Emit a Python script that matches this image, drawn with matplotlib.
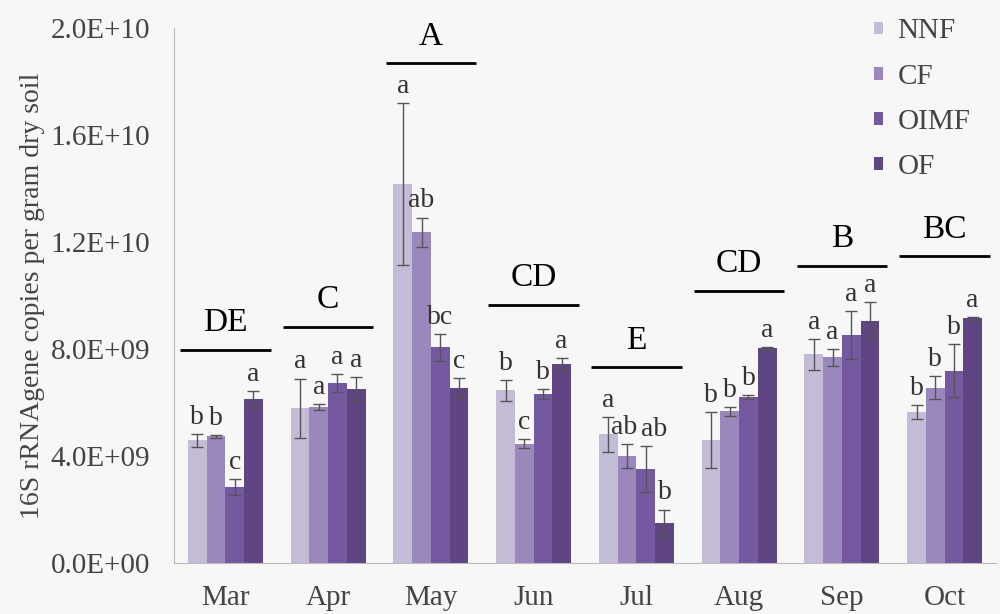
import numpy as np
import matplotlib.pyplot as plt

plt.rcParams['font.family'] = ['Liberation Serif', 'DejaVu Serif']

# Datos
months = ['Mar', 'Apr', 'May', 'Jun', 'Jul', 'Aug', 'Sep', 'Oct']
treatments = ['NNF', 'CF', 'OIMF', 'OF']

nnf = [4.59e9, 5.79e9, 14.16e9, 6.46e9, 4.81e9, 4.59e9, 7.80e9, 5.64e9]
cf = [4.74e9, 5.83e9, 12.37e9, 4.46e9, 4.00e9, 5.67e9, 7.70e9, 6.55e9]
oimf = [2.83e9, 6.73e9, 8.07e9, 6.33e9, 3.52e9, 6.21e9, 8.53e9, 7.20e9]
of = [6.12e9, 6.52e9, 6.55e9, 7.45e9, 1.48e9, 8.03e9, 9.06e9, 9.15e9]

nnf_err = [0.25e9, 1.11e9, 3.03e9, 0.40e9, 0.65e9, 1.04e9, 0.59e9, 0.27e9]
cf_err = [0.05e9, 0.12e9, 0.55e9, 0.17e9, 0.45e9, 0.18e9, 0.32e9, 0.43e9]
oimf_err = [0.30e9, 0.35e9, 0.50e9, 0.18e9, 0.87e9, 0.07e9, 0.91e9, 0.99e9]
of_err = [0.30e9, 0.45e9, 0.37e9, 0.20e9, 0.52e9, 0.06e9, 0.69e9, 0.06e9]

nnf_sig = ['b', 'a', 'a', 'b', 'a', 'b', 'a', 'b']
cf_sig = ['b', 'a', 'ab', 'c', 'ab', 'b', 'a', 'b']
oimf_sig = ['c', 'a', 'bc', 'b', 'ab', 'b', 'a', 'b']
of_sig = ['a', 'a', 'c', 'a', 'b', 'a', 'a', 'a']

group_letters = ['DE', 'C', 'A', 'CD', 'E', 'CD', 'B', 'BC']
group_line = [7.97e9, 8.84e9, 18.7e9, 9.66e9, 7.32e9, 10.19e9, 11.12e9, 11.47e9]

colors = ['#c4bbd6', '#9a88bd', '#7459a0', '#5f4582']

values = [nnf, cf, oimf, of]
errors = [nnf_err, cf_err, oimf_err, of_err]
sigs = [nnf_sig, cf_sig, oimf_sig, of_sig]

# pequeño desplazamiento horizontal para que "ab ab" de Jul no se monte
nudge = {(4, 1): -0.03, (4, 2): 0.08}

fig = plt.figure(figsize=(10, 6.14), dpi=100)
fig.patch.set_facecolor('#f7f7f7')
ax = fig.add_axes([0.174, 0.083, 0.822, 0.871])
ax.set_facecolor('#f7f7f7')

x = np.arange(len(months))
w = 0.182

for i in range(4):
    pos = x + (i - 1.5) * w
    ax.bar(pos, values[i], w, color=colors[i], label=treatments[i])
    ax.errorbar(pos, values[i], yerr=errors[i], fmt='none', ecolor='#555555',
                elinewidth=1, capsize=4, capthick=1)
    for j, (p, v, e, s) in enumerate(zip(pos, values[i], errors[i], sigs[i])):
        ax.text(p + nudge.get((j, i), 0), v + e + 0.62e9, s, ha='center', va='center',
                fontsize=20, color='#333333')

# Líneas y letras de grupo
for xi, yl, letra in zip(x, group_line, group_letters):
    ax.hlines(yl, xi - 0.44, xi + 0.44, color='black', linewidth=2)
    ax.text(xi, yl + 1.0e9, letra, ha='center', va='center', fontsize=24, color='black')

ax.set_xlim(-0.5, 7.5)
ax.set_ylim(0, 2.0e10)
ax.set_yticks(np.arange(0, 2.01e10, 4e9))
ax.set_yticklabels(['0.0E+00', '4.0E+09', '8.0E+09', '1.2E+10', '1.6E+10', '2.0E+10'])
ax.set_xticks(x)
ax.set_xticklabels(months)
ax.tick_params(axis='both', length=0, labelsize=21, labelcolor='#444444')
ax.tick_params(axis='x', pad=16)
ax.tick_params(axis='y', pad=17)

for side in ['top', 'right']:
    ax.spines[side].set_visible(False)
ax.spines['left'].set_color('#bbbbbb')
ax.spines['bottom'].set_color('#bbbbbb')

ax.set_ylabel('16S rRNAgene copies per gram dry soil', fontsize=20, color='#444444', labelpad=4)

leg = ax.legend(loc='upper left', bbox_to_anchor=(0.874, 0.97), bbox_transform=fig.transFigure,
                frameon=False, fontsize=21, borderpad=0, borderaxespad=0,
                handlelength=0.3, handleheight=0.3, handletextpad=0.5, labelspacing=0.66)
for t in leg.get_texts():
    t.set_color('#444444')

plt.savefig('out.png', dpi=100, facecolor=fig.get_facecolor())
plt.close()
